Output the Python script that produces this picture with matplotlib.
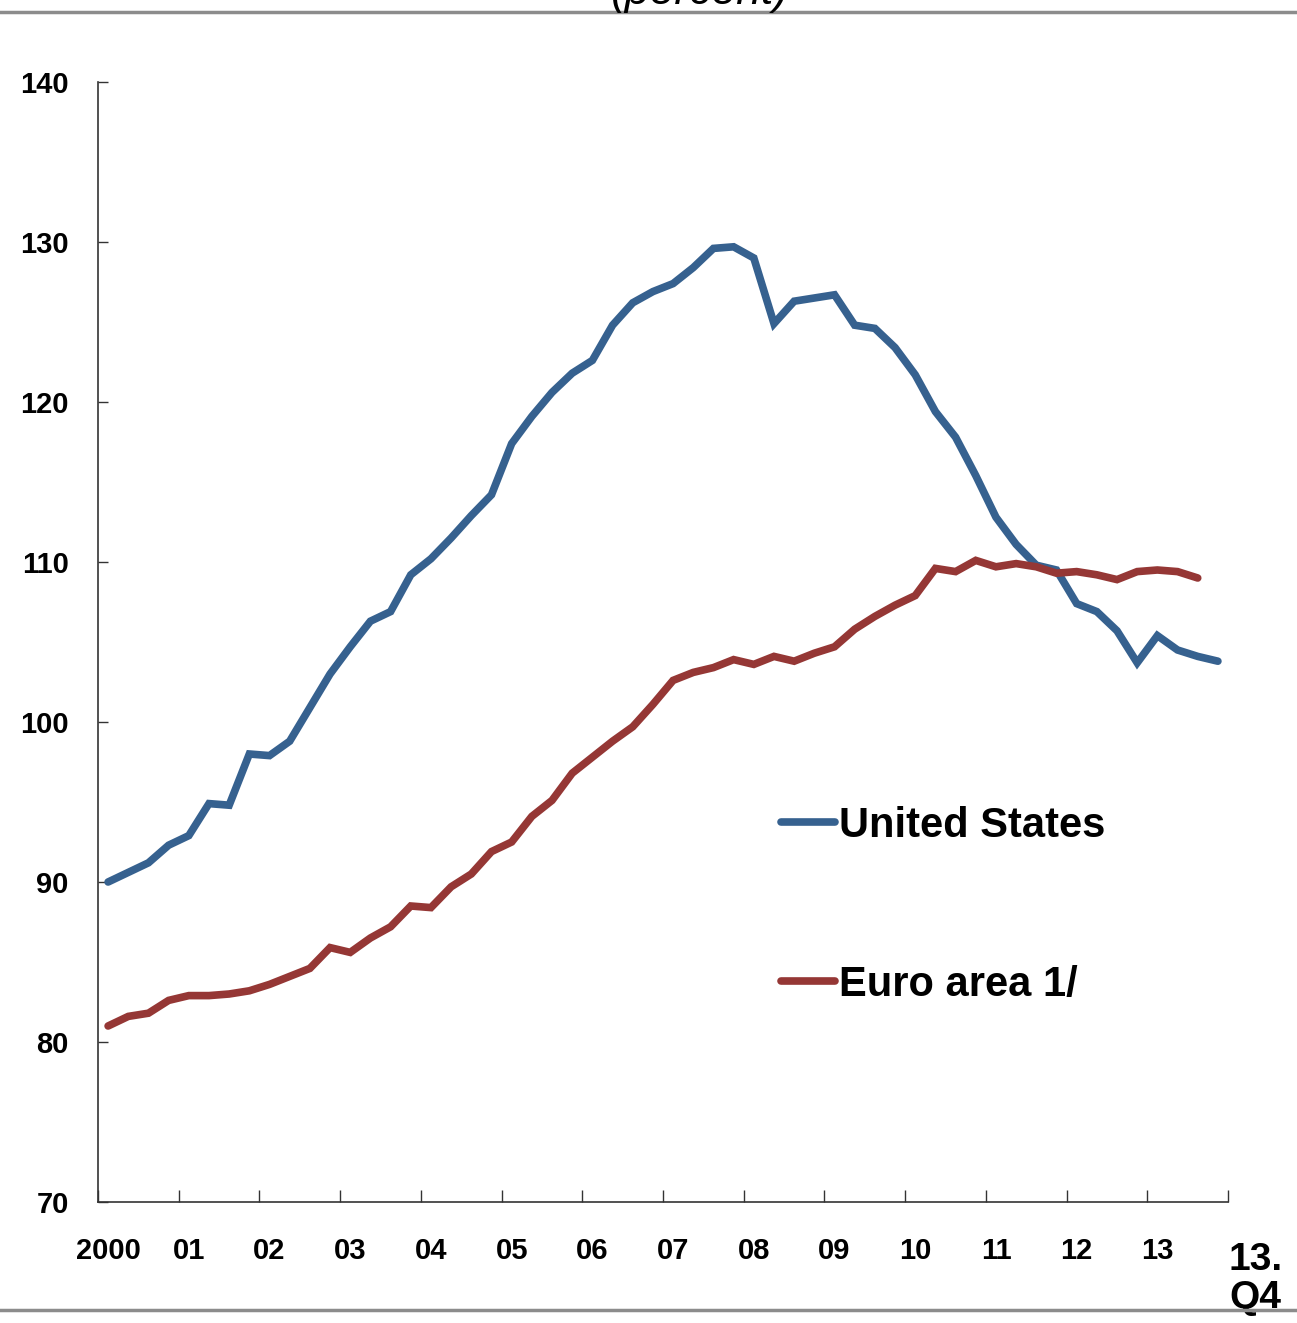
import numpy as np
import matplotlib
matplotlib.use("Agg")
import matplotlib.pyplot as plt
from matplotlib.lines import Line2D

plt.rcParams['font.family'] = ['Liberation Sans Narrow', 'Liberation Sans', 'DejaVu Sans']
plt.rcParams['font.weight'] = 'bold'

# quarterly index, 2000Q1 .. 2013Q4
year_labels = ["2000", "01", "02", "03", "04", "05", "06", "07", "08", "09",
               "10", "11", "12", "13"]

us = [90.0, 90.6, 91.2, 92.3, 92.9, 94.9, 94.8, 98.0, 97.9, 98.8,
      100.9, 103.0, 104.7, 106.3, 106.9, 109.2, 110.2, 111.5, 112.9, 114.2,
      117.4, 119.1, 120.6, 121.8, 122.6, 124.8, 126.2, 126.9, 127.4, 128.4,
      129.6, 129.7, 129.0, 124.9, 126.3, 126.5, 126.7, 124.8, 124.6, 123.4,
      121.7, 119.4, 117.8, 115.4, 112.8, 111.1, 109.8, 109.5, 107.4, 106.9,
      105.7, 103.7, 105.4, 104.5, 104.1, 103.8]

euro = [81.0, 81.6, 81.8, 82.6, 82.9, 82.9, 83.0, 83.2, 83.6, 84.1,
        84.6, 85.9, 85.6, 86.5, 87.2, 88.5, 88.4, 89.7, 90.5, 91.9,
        92.5, 94.1, 95.1, 96.8, 97.8, 98.8, 99.7, 101.1, 102.6, 103.1,
        103.4, 103.9, 103.6, 104.1, 103.8, 104.3, 104.7, 105.8, 106.6, 107.3,
        107.9, 109.6, 109.4, 110.1, 109.7, 109.9, 109.7, 109.3, 109.4, 109.2,
        108.9, 109.4, 109.5, 109.4, 109.0]

blue = '#36618f'
red = '#953735'

fig = plt.figure(figsize=(12.97, 13.23), dpi=100)
ax = fig.add_axes([98/1297, 121/1323, 1130/1297, 1120/1323])

ax.plot(np.arange(len(us)), us, color=blue, lw=5.5, solid_capstyle='round',
        solid_joinstyle='miter', label='United States')
ax.plot(np.arange(len(euro)), euro, color=red, lw=5.5, solid_capstyle='round',
        solid_joinstyle='miter', label='Euro area 1/')

ax.set_xlim(-0.5, len(us) - 0.5)
ax.set_ylim(70, 140)

ax.set_yticks(np.arange(70, 141, 10))
ax.tick_params(axis='y', direction='in', length=7, width=1, pad=21,
               labelsize=21, colors='#333333', labelcolor='black')

# major ticks between years, labels at each Q1
ax.set_xticks(np.arange(-0.5, len(us), 4))
ax.set_xticklabels([])
ax.set_xticks(np.arange(0, len(us), 4), minor=True)
ax.set_xticklabels(year_labels, minor=True)
ax.tick_params(axis='x', which='major', direction='in', length=9, width=1,
               colors='#333333')
ax.tick_params(axis='x', which='minor', length=0, pad=25, labelsize=21)

for s in ['top', 'right']:
    ax.spines[s].set_visible(False)
for s in ['left', 'bottom']:
    ax.spines[s].set_color('#333333')
    ax.spines[s].set_linewidth(1.2)

ax.text(1.024, -0.036, "13.\nQ4", transform=ax.transAxes, fontsize=28,
        ha='center', va='top', linespacing=1.05)

leg = ax.legend(loc='upper left', bbox_to_anchor=(0.571, 0.387), frameon=False,
                fontsize=30, handlelength=1.3, handletextpad=0.1,
                labelspacing=2.85)

# page rules and cut-off subtitle
fig.add_artist(Line2D([0, 1], [1 - 12/1323, 1 - 12/1323], color='#8c8c8c', lw=2.5))
fig.add_artist(Line2D([0, 1], [1 - 1310/1323, 1 - 1310/1323], color='#8c8c8c', lw=2.5))
fig.text(0.54, 1 - 4/1323, "(percent)", fontsize=32, style='italic',
         weight='normal', ha='center', va='baseline')

fig.savefig("out.png", dpi=100)
